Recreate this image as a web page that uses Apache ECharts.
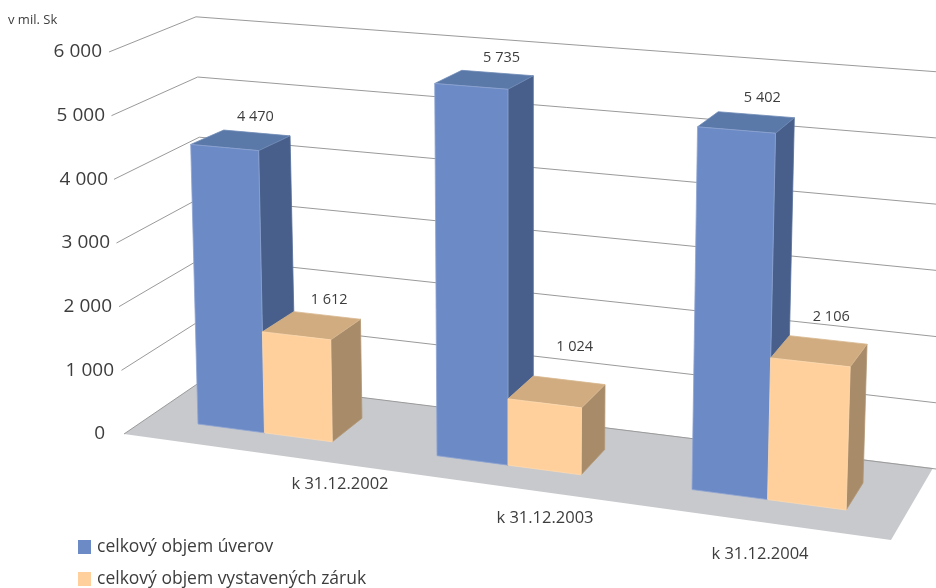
<!DOCTYPE html>
<html>
<head>
<meta charset="utf-8">
<style>html,body{margin:0;padding:0;background:#fff;overflow:hidden}#c{width:936px;height:588px}</style>
<script src="https://cdn.jsdelivr.net/npm/echarts@6/dist/echarts.min.js"></script>
</head>
<body>
<div id="c"></div>
<script>
const categories = ['k 31.12.2002', 'k 31.12.2003', 'k 31.12.2004'];
const uvery = [4470, 5735, 5402];
const zaruky = [1612, 1024, 2106];
const yTicks = [0, 1000, 2000, 3000, 4000, 5000, 6000];
const seriesNames = ['celkový objem úverov', 'celkový objem vystavených záruk'];

const FONT = '"Open Sans","Noto Sans",sans-serif';
const TEXT = '#3d3d3d';
const fmt = v => String(v).replace(/\B(?=(\d{3})+$)/g, ' ');

// label placement
const tickRightEdge = [105, 114, 112, 110, 108, 105, 102];
const catPadTop = [42, 76, 112];
const catPadRight = [0, 10, 0];
const AXIS_X = 114;
const blueLabelOffset = [[-1.5, -16], [4, -15.5], [6, -16.5]];
const orangeLabelOffset = [[2, -16], [5.5, -33.5], [3, -23]];

// oblique projection of the chart's box
const frontX = u => 198 + 231 * u + 8 * u * u;
const frontY = x => 424 + 0.1327 * (x - 198);
const heightAt = (px, x) => px * (0.06 + 9e-6 * x + 2.67e-6 * px) / 0.06367;
const leanAt = (x, h) => (x - 510) * 8.4e-5 * h;
const depthAt = (x, h) => [38 - 0.025 * x, -21.5 - 0.0065 * x + 0.03 * h];
const FLOOR = [[124, 434], [891, 540], [933, 468], [206, 378]];

function barRender(startU, endU, faces, labelOffset) {
  return function (params, api) {
    const c = api.value(0), v = api.value(1);
    const px = api.coord([c, 0])[1] - api.coord([c, v])[1];
    const x0 = frontX(c + startU), x1 = frontX(c + endU(c));
    const h0 = heightAt(px, x0), h1 = heightAt(px, x1);
    const bl = [x0, frontY(x0)], br = [x1, frontY(x1)];
    const tl = [x0 + leanAt(x0, h0), frontY(x0) - h0];
    const tr = [x1 + leanAt(x1, h1), frontY(x1) - h1];
    const dl = depthAt(x0, h0), dr = depthAt(x1, h1), db = depthAt(x1, 0);
    const tlb = [tl[0] + dl[0], tl[1] + dl[1]];
    const trb = [tr[0] + dr[0], tr[1] + dr[1]];
    const brb = [br[0] + db[0], br[1] + db[1]];
    const poly = (points, fill, edge) => ({
      type: 'polygon', shape: { points: points },
      style: { fill: fill, stroke: edge, lineWidth: 0.8 }
    });
    const off = labelOffset[c];
    return {
      type: 'group',
      children: [
        poly([br, brb, trb, tr], faces.side, faces.sideEdge),
        poly([tl, tr, trb, tlb], faces.top, faces.topEdge),
        poly([bl, br, tr, tl], faces.front, faces.frontEdge),
        {
          type: 'text',
          style: {
            x: (tlb[0] + trb[0]) / 2 + off[0], y: (tlb[1] + trb[1]) / 2 + off[1],
            text: fmt(v), fill: TEXT, font: '14.5px ' + FONT,
            align: 'center', verticalAlign: 'middle'
          }
        }
      ]
    };
  };
}

const blueFaces = { front: '#6c8ac5', side: '#475f8a', top: '#5a78a8',
  frontEdge: '#8ea5d3', sideEdge: '#566e9a', topEdge: '#6f8ab5' };
const orangeFaces = { front: '#ffd09b', side: '#a88b69', top: '#d0ac80',
  frontEdge: '#ffd9ae', sideEdge: '#b39773', topEdge: '#d8b88f' };

const yRich = {}, xRich = {};
yTicks.forEach((t, i) => {
  yRich['t' + t] = { padding: [0, AXIS_X - tickRightEdge[i], 0, 0], fontSize: 19, color: TEXT, fontFamily: FONT };
});
categories.forEach((c, i) => {
  xRich['c' + i] = { padding: [catPadTop[i], catPadRight[i], 0, 0], fontSize: 16.5, color: TEXT, fontFamily: FONT };
});

const legendBase = {
  orient: 'vertical', left: 78, icon: 'rect', itemWidth: 13, itemHeight: 14,
  itemGap: 0, padding: 0, selectedMode: false,
  textStyle: { fontSize: 17.5, lineHeight: 18, color: TEXT, fontFamily: FONT, padding: [0, 0, 0, 1] }
};

const chart = echarts.init(document.getElementById('c'), null, { renderer: 'canvas' });
chart.setOption({
  animation: false,
  backgroundColor: '#fff',
  title: {
    text: 'v mil. Sk', left: 3, top: 9,
    textStyle: { fontSize: 13, fontWeight: 'normal', color: TEXT, fontFamily: FONT }
  },
  legend: [
    Object.assign({}, legendBase, { data: [seriesNames[0]], top: 538 }),
    Object.assign({}, legendBase, { data: [seriesNames[1]], top: 570 })
  ],
  grid: { left: 235, width: 630, top: 52, height: 382 },
  xAxis: {
    type: 'category', data: categories,
    axisLine: { show: false }, axisTick: { show: false },
    axisLabel: {
      margin: 0, interval: 0, hideOverlap: false,
      formatter: (v, i) => '{c' + i + '|' + v + '}', rich: xRich
    }
  },
  yAxis: {
    type: 'value', min: 0, max: 6000, interval: 1000, offset: 121,
    axisLine: { show: false }, axisTick: { show: false }, splitLine: { show: false },
    axisLabel: {
      margin: 0, formatter: v => '{t' + v + '|' + fmt(v) + '}', rich: yRich
    }
  },
  series: [
    {
      type: 'custom', name: 'floor', silent: true, clip: false, z: 1,
      data: [[0, 0]],
      renderItem: () => ({
        type: 'polygon', shape: { points: FLOOR },
        style: { fill: '#c8c9cd' }
      })
    },
    {
      type: 'custom', name: 'walls', silent: true, clip: false, z: 2,
      data: yTicks.map(t => [0, t]),
      renderItem: (params, api) => {
        const h = api.coord([0, 0])[1] - api.coord([0, api.value(1)])[1];
        return {
          type: 'polyline',
          shape: { points: [
            [124 - 0.0393 * h, 434 - h],
            [206 - 0.0262 * h, 378 - 0.9455 * h],
            [936, 469 - 1.04 * h]
          ] },
          style: { fill: 'none', stroke: '#9a9a9a', lineWidth: 1 }
        };
      }
    },
    {
      type: 'custom', name: seriesNames[0], silent: true, clip: false, z: 3,
      itemStyle: { color: '#6c8ac5' },
      data: uvery.map((v, i) => [i, v]),
      renderItem: barRender(0, () => 0.285, blueFaces, blueLabelOffset)
    },
    {
      type: 'custom', name: seriesNames[1], silent: true, clip: false, z: 4,
      itemStyle: { color: '#ffd09b' },
      data: zaruky.map((v, i) => [i, v]),
      renderItem: barRender(0.285, c => 0.57 + 0.003 * c, orangeFaces, orangeLabelOffset)
    }
  ]
});
</script>
</body>
</html>
